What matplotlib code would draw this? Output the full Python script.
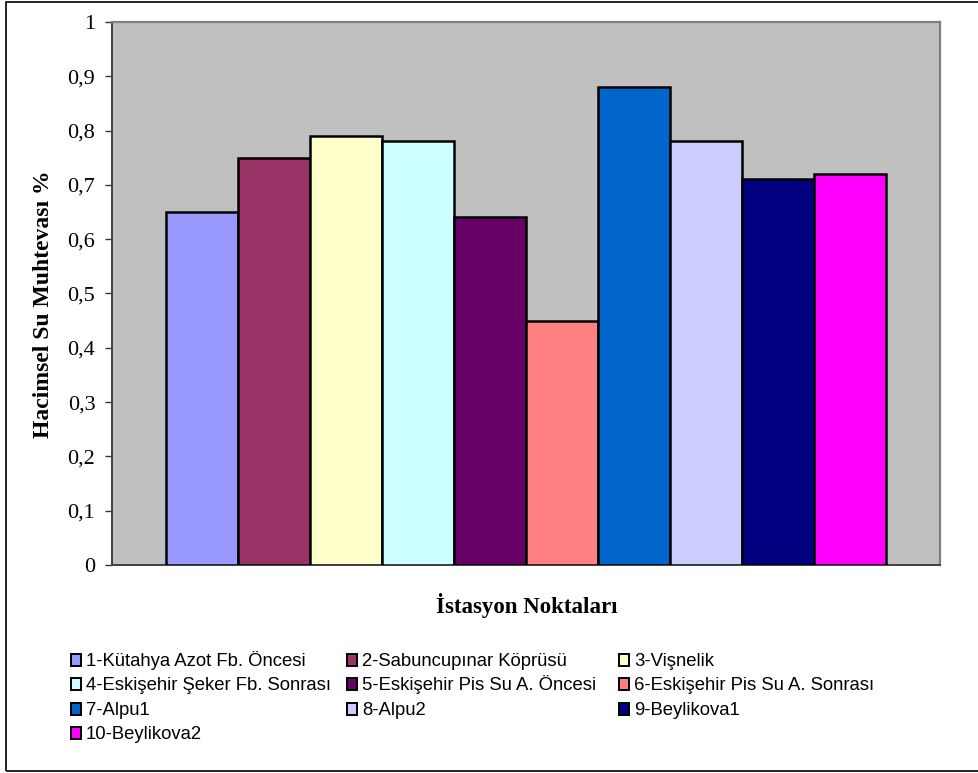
import matplotlib
matplotlib.use("Agg")
import matplotlib.pyplot as plt
from matplotlib.patches import Rectangle
from matplotlib.ticker import FuncFormatter, MultipleLocator

stations = [
    "1-Kütahya Azot Fb. Öncesi",
    "2-Sabuncupınar Köprüsü",
    "3-Vişnelik",
    "4-Eskişehir Şeker Fb. Sonrası",
    "5-Eskişehir Pis Su A. Öncesi",
    "6-Eskişehir Pis Su A. Sonrası",
    "7-Alpu1",
    "8-Alpu2",
    "9-Beylikova1",
    "10-Beylikova2",
]
water_content = [0.65, 0.75, 0.79, 0.78, 0.64, 0.45, 0.88, 0.78, 0.71, 0.72]
bar_colors = ["#9999FF", "#993366", "#FFFFCC", "#CCFFFF", "#660066",
              "#FF8080", "#0066CC", "#CCCCFF", "#000080", "#FF00FF"]

serif = ["Liberation Serif", "DejaVu Serif"]
sans = ["Liberation Sans", "DejaVu Sans"]

W, H = 979, 773
fig = plt.figure(figsize=(W / 100, H / 100), dpi=100)
ax = fig.add_axes([112 / W, 1 - 565 / H, (940 - 112) / W, (565 - 22) / H])
ax.set_facecolor("#C0C0C0")

xs = list(range(len(water_content)))
ax.bar(xs, water_content, width=1.0, color=bar_colors, edgecolor="black", linewidth=1.8, zorder=3)

ax.set_xlim(-0.5 - 0.75, len(xs) - 0.5 + 0.75)
ax.set_ylim(0, 1)
ax.yaxis.set_major_locator(MultipleLocator(0.1))


def comma_fmt(v, pos):
    if abs(v) < 1e-9:
        return "0"
    if abs(v - 1) < 1e-9:
        return "1"
    return f"{v:.1f}".replace(".", ",")


ax.yaxis.set_major_formatter(FuncFormatter(comma_fmt))
ax.set_xticks([])
ax.tick_params(axis="y", direction="out", length=5, width=1, color="#333333", pad=7)
for lbl in ax.get_yticklabels():
    lbl.set_family(serif)
    lbl.set_fontsize(16)

for side in ["top", "right"]:
    ax.spines[side].set_color("#808080")
    ax.spines[side].set_linewidth(1.6)
for side in ["left", "bottom"]:
    ax.spines[side].set_color("#404040")
    ax.spines[side].set_linewidth(1.4)

fig.text(44 / W, 1 - 304 / H, "Hacimsel Su Muhtevası %", rotation=90, ha="center", va="center",
         family=serif, fontsize=17, fontweight="bold")
fig.text(527 / W, 1 - 605 / H, "İstasyon Noktaları", ha="center", va="center",
         family=serif, fontsize=16.5, fontweight="bold")

# legend laid out like Excel: row by row, three fixed-width columns
col_x = [71, 347, 619]
first_baseline = 666
row_step = 24.3
for i, (name, color) in enumerate(zip(stations, bar_colors)):
    r, c = divmod(i, 3)
    base = first_baseline + r * row_step
    x0 = col_x[c]
    fig.patches.append(Rectangle((x0 / W, 1 - base / H), 10 / W, 12 / H,
                                 transform=fig.transFigure, facecolor=color,
                                 edgecolor="black", linewidth=1.4))
    fig.text((x0 + 15) / W, 1 - base / H, name, ha="left", va="baseline",
             family=sans, fontsize=13.3)

fig.patches.append(Rectangle((6 / W, 1 - 771 / H), 1.2, (771 - 2) / H,
                             transform=fig.transFigure, fill=False, edgecolor="black",
                             linewidth=1.2, clip_on=False))

fig.savefig("out.png", dpi=100, facecolor="white")
